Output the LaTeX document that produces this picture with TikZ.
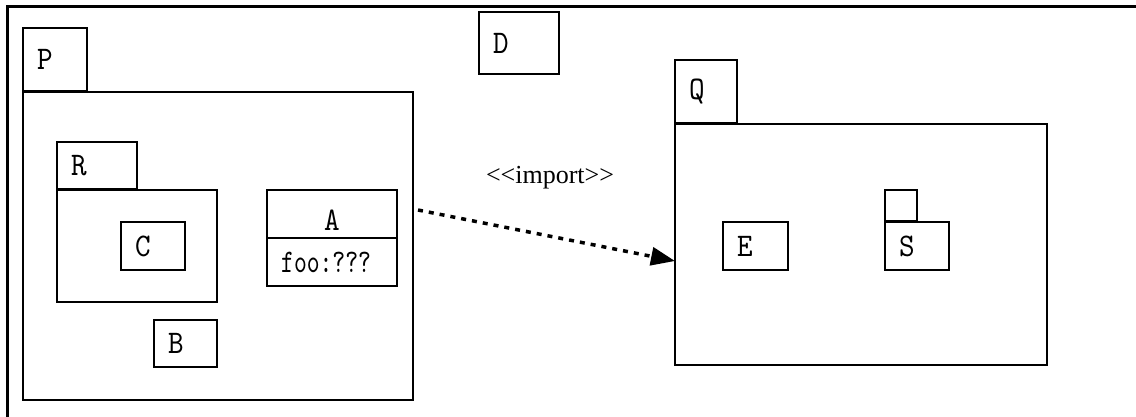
\documentclass[tikz,border=0pt]{standalone}
\usepackage{fontspec}
\usetikzlibrary{arrows.meta}
\newfontfamily\boxfont{lmmono10-regular.otf}[FakeStretch=0.74]
\newfontfamily\namefont{lmmono10-regular.otf}[FakeStretch=0.9]
\newfontfamily\stereofont{Liberation Serif}

\begin{document}
\begin{tikzpicture}[x=1pt,y=-1pt,
	box/.style 2 args={draw,line width=1.5pt,anchor=north west,inner sep=0,outer sep=0,minimum width=#1,minimum height=#2},
	tag/.style={label={[font=\namefont\fontsize{33}{33}\selectfont,anchor=west,xshift=14pt,inner sep=0]west:#1}}]
	\useasboundingbox (0,0) rectangle (1136,417);
	\draw[line width=3pt] (1136,7) -- (7,7) -- (7,417);
	% package P
	\node[box={64}{63},tag=P] (Ptab) at (23,28) {};
	\node[box={390}{308}] (P) at (23,92) {};
	\node[box={80}{47},tag=R] (Rtab) at (57,142) {};
	\node[box={160}{112}] (R) at (57,190) {};
	\node[box={64}{48},tag=C] (C) at (121,222) {};
	\node[box={63}{47},tag=B] (B) at (154,320) {};
	\node[box={130}{48},label={[font=\namefont\fontsize{33}{33}\selectfont,inner sep=0,yshift=-6pt]center:A}] (Ahead) at (267,190) {};
	\node[box={130}{48},label={[font=\boxfont\fontsize{33}{33}\selectfont,anchor=west,xshift=14pt,inner sep=0]west:foo:???}] (Aattr) at (267,238) {};
	% D on its own
	\node[box={80}{62},tag=D] (D) at (479,12) {};
	% package Q
	\node[box={62}{63},tag=Q] (Qtab) at (675,60) {};
	\node[box={372}{241}] (Q) at (675,124) {};
	\node[box={65}{48},tag=E] (E) at (723,222) {};
	\node[box={32}{31}] (Stab) at (885,190) {};
	\node[box={64}{48},tag=S] (S) at (885,222) {};
	% import dependency
	\node[font=\stereofont\fontsize{26}{26}\selectfont] (imp) at (550,178) {<<import>>};
	\draw[line width=3.5pt,dash pattern=on 5pt off 6pt,-{Triangle[length=24pt,width=18pt]}]
		([xshift=5pt,yshift=36pt]P.east) -- ([yshift=-16.5pt]Q.west);
\end{tikzpicture}
\end{document}
